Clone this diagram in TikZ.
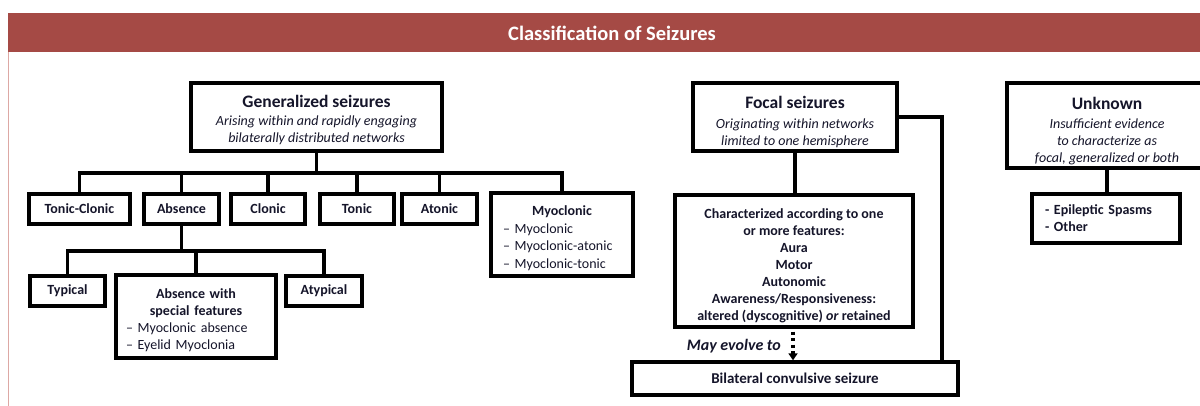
\documentclass[tikz,border=0pt]{standalone}
\usepackage{fontspec}
\setmainfont{Carlito}
\usetikzlibrary{arrows.meta}
\definecolor{hdr}{HTML}{A54A45}
\definecolor{edgeline}{HTML}{DDA8A4}
\definecolor{ink}{HTML}{15152A}
\newcommand{\itl}[1]{{\mdseries\itshape\fontsize{14}{17}\selectfont #1}}
\newcommand{\pushdown}[1]{\rule{0pt}{#1}}
\begin{document}
\begin{tikzpicture}[x=1pt,y=-1pt,
  box/.style={draw=black, line width=3.4pt, fill=white, inner sep=0pt, align=center, text=ink,
              font=\fontsize{14}{17}\selectfont\bfseries},
  conn/.style={draw=black, line width=3.4pt, line join=miter},
]
\useasboundingbox (0,0) rectangle (1200,406);
\clip (0,0) rectangle (1200,406);
\fill[white] (0,0) rectangle (1200,406);
% header
\fill[hdr] (8,13) rectangle (1210,52);
\node[text=white, font=\fontsize{20.5}{24}\selectfont\bfseries] (title) at (612,33) {Classification of Seizures};
\draw[edgeline, line width=1.2pt] (8.6,52) -- (8.6,406);

% generalized
\node[box, minimum width=251pt, minimum height=68pt] (gen) at (316.5,117)
  {\pushdown{17.5pt}{\fontsize{17.5}{19}\selectfont Generalized seizures}\\[1pt]
   \itl{Arising within and rapidly engaging}\\
   \itl{bilaterally distributed networks}};

\node[box, minimum width=101pt, minimum height=30pt] (tc)  at (79.5,209) {Tonic-Clonic};
\node[box, minimum width=75pt,  minimum height=30pt] (abs) at (181.5,209) {Absence};
\node[box, minimum width=74pt,  minimum height=30pt] (clo) at (268,209) {Clonic};
\node[box, minimum width=74pt,  minimum height=30pt] (ton) at (357,209) {Tonic};
\node[box, minimum width=75pt,  minimum height=30pt] (ato) at (439.5,209) {Atonic};
\node[box, minimum width=142pt, minimum height=83pt, align=left, text width=118pt,
      font=\fontsize{14}{17.5}\selectfont\bfseries] (myo) at (562,234.5)
  {\pushdown{17.5pt}\makebox[118pt][c]{Myoclonic}\\
   {\mdseries -- Myoclonic}\\
   {\mdseries -- Myoclonic-atonic}\\
   {\mdseries -- Myoclonic-tonic}};

\node[box, minimum width=75pt,  minimum height=30pt] (typ) at (67.5,291) {Typical};
\node[box, minimum width=160pt, minimum height=83pt, align=left, text width=140pt] (spe) at (196,316.5)
  {\pushdown{16.5pt}\makebox[140pt][c]{Absence with}\\
   \makebox[140pt][c]{special features}\\
   {\mdseries -- Myoclonic absence}\\
   {\mdseries -- Eyelid Myoclonia}};
\node[box, minimum width=76pt,  minimum height=30pt] (aty) at (324,291) {Atypical};

\coordinate (gbar) at (0,173);
\coordinate (abar) at (0,251);
\draw[conn] (tc.north) |- (myo.north |- gbar) -- (myo.north);
\draw[conn] (gen.south) -- (gen.south |- gbar);
\draw[conn] (abs.north |- gbar) -- (abs.north);
\draw[conn] (clo.north |- gbar) -- (clo.north);
\draw[conn] (ton.north |- gbar) -- (ton.north);
\draw[conn] (ato.north |- gbar) -- (ato.north);
\draw[conn] (typ.north) |- (aty.north |- abar) -- (aty.north);
\draw[conn] (abs.south) -- (abs.south |- abar);
\draw[conn] (spe.north |- abar) -- (spe.north);

% focal
\node[box, minimum width=204pt, minimum height=68pt] (foc) at (795,117)
  {\pushdown{22pt}{\fontsize{17.5}{19}\selectfont Focal seizures}\\[3pt]
   \itl{Originating within networks}\\
   \itl{limited to one hemisphere}};
\node[box, minimum width=238pt, minimum height=132pt] (chr) at (794,261)
  {\pushdown{18.5pt}Characterized according to one\\
   or more features:\\
   Aura\\
   Motor\\
   Autonomic\\
   Awareness/Responsiveness:\\
   altered (dyscognitive) \textit{or} retained};
\node[box, minimum width=326pt, minimum height=33pt, font=\fontsize{15}{18}\selectfont\bfseries] (bil) at (795,378.5)
  {Bilateral convulsive seizure};
\node[anchor=east, text=ink, font=\fontsize{16}{18}\selectfont\bfseries\itshape, inner sep=0pt] (evo) at (781,346) {May evolve to};

\coordinate (rline) at (942,0);
\coordinate (dline) at (793,0);
\draw[conn] (foc.south) -- (foc.south |- chr.north);
\draw[conn] (foc.east) -| (rline |- bil.north);
\draw[line width=3.2pt, dash pattern=on 3pt off 3.5pt, -{Triangle[width=9pt,length=7pt]}] (dline |- chr.south) ++(0,3) -- (dline |- bil.north);

% unknown
\node[box, minimum width=200pt, minimum height=85pt] (unk) at (1107,125.5)
  {\pushdown{23pt}{\fontsize{17.5}{19}\selectfont Unknown}\\[2pt]
   \itl{Insufficient evidence}\\
   \itl{to characterize as}\\
   \itl{focal, generalized or both}};
\node[box, minimum width=148pt, minimum height=49pt, align=left, text width=122pt] (eps) at (1106,218.5)
  {- Epileptic Spasms\\
   - Other};
\draw[conn] (unk.south) -- (unk.south |- eps.north);
\end{tikzpicture}
\end{document}
